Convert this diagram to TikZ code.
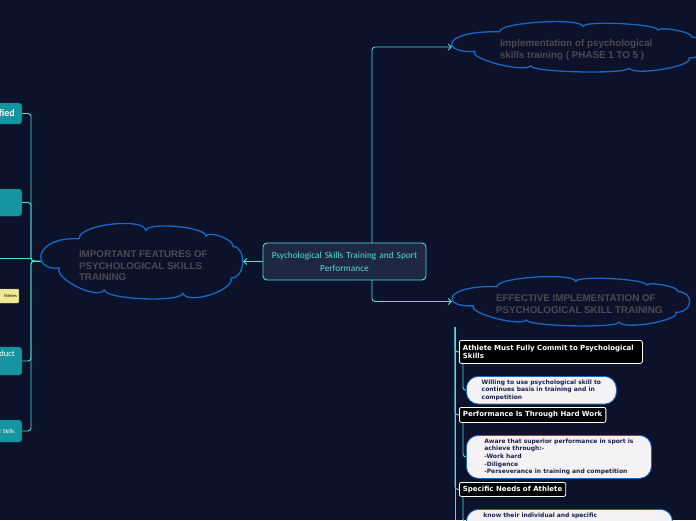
\documentclass[tikz,border=0pt]{standalone}
\usepackage{fontspec}
\setmainfont{Carlito}
\newfontfamily\cloudfont{Liberation Sans}
\newfontfamily\boxfont{DejaVu Sans}
\usepackage{tikz}
\usetikzlibrary{positioning, arrows.meta}

\definecolor{bgnavy}{RGB}{11,18,41}
\definecolor{linkcyan}{RGB}{84,222,210}
\definecolor{centralfill}{RGB}{30,40,66}
\definecolor{cloudblue}{RGB}{22,104,196}
\definecolor{cloudtext}{RGB}{74,74,80}
\definecolor{topicteal}{RGB}{22,148,160}
\definecolor{notefill}{RGB}{240,234,150}
\definecolor{pillfill}{RGB}{245,242,245}
\definecolor{pilltext}{RGB}{24,34,80}

% cloud outline round a node: name, x factor, y factor (1,1 = 202 x 75)
\newcommand{\puffcloud}[3]{%
  \begin{scope}[shift={(#1.center)}, xscale=#2, yscale=#3]
    \draw[cloudedge] (-62.7,-22.8) .. controls (-64.4,-36.8) and (2.3,-44.8) .. (4,-30.8)
      .. controls (4.9,-40.1) and (64.9,-34.5) .. (64,-25.2)
      .. controls (66.4,-31.5) and (93.1,-21.5) .. (90.7,-15.2)
      .. controls (105.2,-14.4) and (103.5,17.3) .. (89,16.5)
      .. controls (92.9,29.1) and (44.6,44.1) .. (40.7,31.5)
      .. controls (40.3,41.4) and (-38.1,38.1) .. (-37.7,28.2)
      .. controls (-43.0,39.3) and (-88.0,17.6) .. (-82.7,6.5)
      .. controls (-110,10) and (-110,-25) .. (-62.7,-22.8) -- cycle;
  \end{scope}}

\begin{document}
\begin{tikzpicture}[x=1pt, y=-1pt,
    central/.style={draw=linkcyan, line width=0.9pt, fill=centralfill, rounded corners=4pt, text=linkcyan, align=center, font=\fontsize{9.3}{13}\selectfont},
    idea/.style={inner sep=0pt},
    ideatext/.style={anchor=west, text=cloudtext, align=left, inner sep=0pt, font=\cloudfont\bfseries\fontsize{9.8}{11.6}\selectfont},
    cloudedge/.style={draw=cloudblue, line width=1.3pt, line join=round},
    topic/.style={fill=topicteal, draw=topicteal!80!black, rounded corners=3pt, text=white, align=right, anchor=east, minimum width=70pt},
    note/.style={fill=notefill, draw=notefill!70!black, rounded corners=1pt, anchor=east, align=right, font=\fontsize{4.5}{5}\selectfont, inner sep=2pt},
    heading/.style={draw=white, line width=0.8pt, fill=black, rounded corners=2pt, text=white, align=left, anchor=north west, inner sep=3.5pt, font=\boxfont\bfseries\fontsize{7}{8.5}\selectfont},
    detail/.style={draw=cloudblue, line width=0.8pt, fill=pillfill, rounded corners=12pt, text=pilltext, align=left, anchor=north west, font=\boxfont\bfseries\fontsize{6}{7.6}\selectfont},
    link/.style={draw=linkcyan, line width=0.9pt, rounded corners=3pt},
    >={Straight Barb[length=3pt, width=6pt]}]

% background and page
\fill[bgnavy] (0,0) rectangle (696,520);
\useasboundingbox (0,0) rectangle (696,520);

% main topic and the three clouds
\node[central, minimum width=163pt, minimum height=37pt, text width=152pt] (main) at (344.5,261.5) {Psychological Skills Training and Sport\\ Performance};
\node[idea, minimum width=202pt, minimum height=75pt] (features) at (142,261.5) {};
\node[idea, minimum width=252pt, minimum height=50pt] (phases) at (578,47) {};
\node[idea, minimum width=238pt, minimum height=49pt] (effective) at (571,301.5) {};
\puffcloud{features}{1}{1}
\puffcloud{phases}{1.248}{0.667}
\puffcloud{effective}{1.178}{0.653}
\node[ideatext, yshift=-4.2pt] (featurestext) at ([xshift=38pt]features.west) {IMPORTANT FEATURES OF\\ PSYCHOLOGICAL SKILLS\\ TRAINING};
\node[ideatext, yshift=-3pt] (phasestext) at ([xshift=48pt]phases.west) {Implementation of psychological\\ skills training ( PHASE 1 TO 5 )};
\node[ideatext, yshift=-2.5pt] (effectivetext) at ([xshift=44pt]effective.west) {EFFECTIVE IMPLEMENTATION OF\\ PSYCHOLOGICAL SKILL TRAINING};

\coordinate (mainup) at (372,243);
\coordinate (maindown) at (372,280);
\draw[link, ->] (main.west) -- (features.east);
\draw[link, ->] (mainup) |- (phases.west);
\draw[link, ->] (maindown) |- (effective.west);

% left branch (cut by the page edge)
\node[topic, minimum height=21pt, text width=56pt, font=\bfseries\fontsize{10}{12}\selectfont] (identified) at (22,113.5) {fied};
\node[topic, minimum height=27pt] (second) at (22,202.5) {};
\node[note, minimum height=14pt, text width=40pt] (athletes) at (19,296) {thletes};
\node[topic, minimum height=28pt, text width=56pt, font=\fontsize{8.5}{9}\selectfont] (conduct) at (22,361) {nduct\\[6pt]~};
\node[topic, minimum height=22pt, text width=56pt, font=\fontsize{6}{8}\selectfont] (skills) at (22,431) {l Skills};

\coordinate (lbus) at (31,261);
\coordinate (offleft) at (0,258);
\draw[link] (features.west) -- (lbus) |- (identified.east);
\draw[link] (features.west) -- (lbus) |- (second.east);
\draw[link] (features.west) -- (lbus) |- (conduct.east);
\draw[link] (features.west) -- (lbus) |- (skills.east);
\draw[link] (offleft) -- (lbus |- offleft);

% right branch
\node[heading, text width=176pt, minimum height=23pt] (commit) at (459,340) {Athlete Must Fully Commit to Psychological\\ Skills};
\node[detail, minimum width=150pt, minimum height=27pt] (willing) at (466,376) {Willing to use psychological skill to\\ continues basis in training and in\\ competition};
\node[heading, minimum height=15pt] (hardwork) at (459,407) {Performance Is Through Hard Work};
\node[detail, minimum width=185pt, minimum height=43pt] (aware) at (466,435) {Aware that superior performance in sport is\\ achieve through:-\\ -Work hard\\ -Diligence\\ -Perseverance in training and competition};
\node[heading, minimum height=14pt] (needs) at (459,482) {Specific Needs of Athlete};
\node[detail, minimum width=206pt, minimum height=25pt, text width=172pt, inner xsep=17pt, text depth=14pt] (know) at (466,509) {know their individual and specific};

\coordinate (rbus) at (455,327);
\coordinate (rbusend) at (455,520);
\draw[link] (rbus) |- (commit.west);
\draw[link] (rbus) |- (hardwork.west);
\draw[link] (rbus) |- (needs.west);
\draw[link] (rbus) -- (rbusend);
\draw[link] ([xshift=4pt]commit.south west) |- (willing.west);
\draw[link] ([xshift=4pt]hardwork.south west) |- (aware.west);
\draw[link] ([xshift=4pt]needs.south west) |- (know.west);

\end{tikzpicture}
\end{document}
